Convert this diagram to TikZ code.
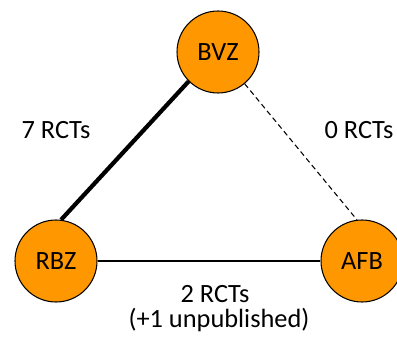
\documentclass[tikz,border=0pt]{standalone}
\usepackage{fontspec}
\setmainfont{Carlito}
\usepackage{tikz}
\usetikzlibrary{calc}
\definecolor{trialorange}{RGB}{255,152,0}

\begin{document}
\begin{tikzpicture}[
  site/.style={circle,draw=black,line width=0.6pt,fill=trialorange,minimum size=1.64cm,inner sep=0pt,font=\fontsize{15}{18}\selectfont},
  count/.style={font=\fontsize{15}{18}\selectfont,inner sep=0pt}]
  \useasboundingbox (0,0) rectangle (7.94,6.84);
  \begin{scope}
  \clip (0,0) rectangle (7.94,6.84);
  %\draw[thin,gray!40] (0,0) grid (8,7);
  \node[site] (bvz) at (4.36,5.80) {BVZ};
  \node[site] (rbz) at (1.12,1.62) {RBZ};
  \node[site] (afb) at (7.24,1.62) {AFB};
  \draw[line width=2.4pt] (bvz.225)--(rbz.83);
  \draw[line width=0.6pt,dash pattern=on 3pt off 2pt] (bvz.-50)--(afb.97);
  \draw[line width=0.6pt] (rbz.east)--(afb.east -| afb.west);
  \end{scope}
  \node[count] (bvzrbz) at (1.12,4.24) {7 RCTs};
  \node[count] (bvzafb) at (7.18,4.24) {0 RCTs};
  \node[count] (rbzafb) at (4.30,0.96) {2 RCTs};
  \node[count] (rbzafbextra) at (4.38,0.44) {(+1 unpublished)};
\end{tikzpicture}
\end{document}
